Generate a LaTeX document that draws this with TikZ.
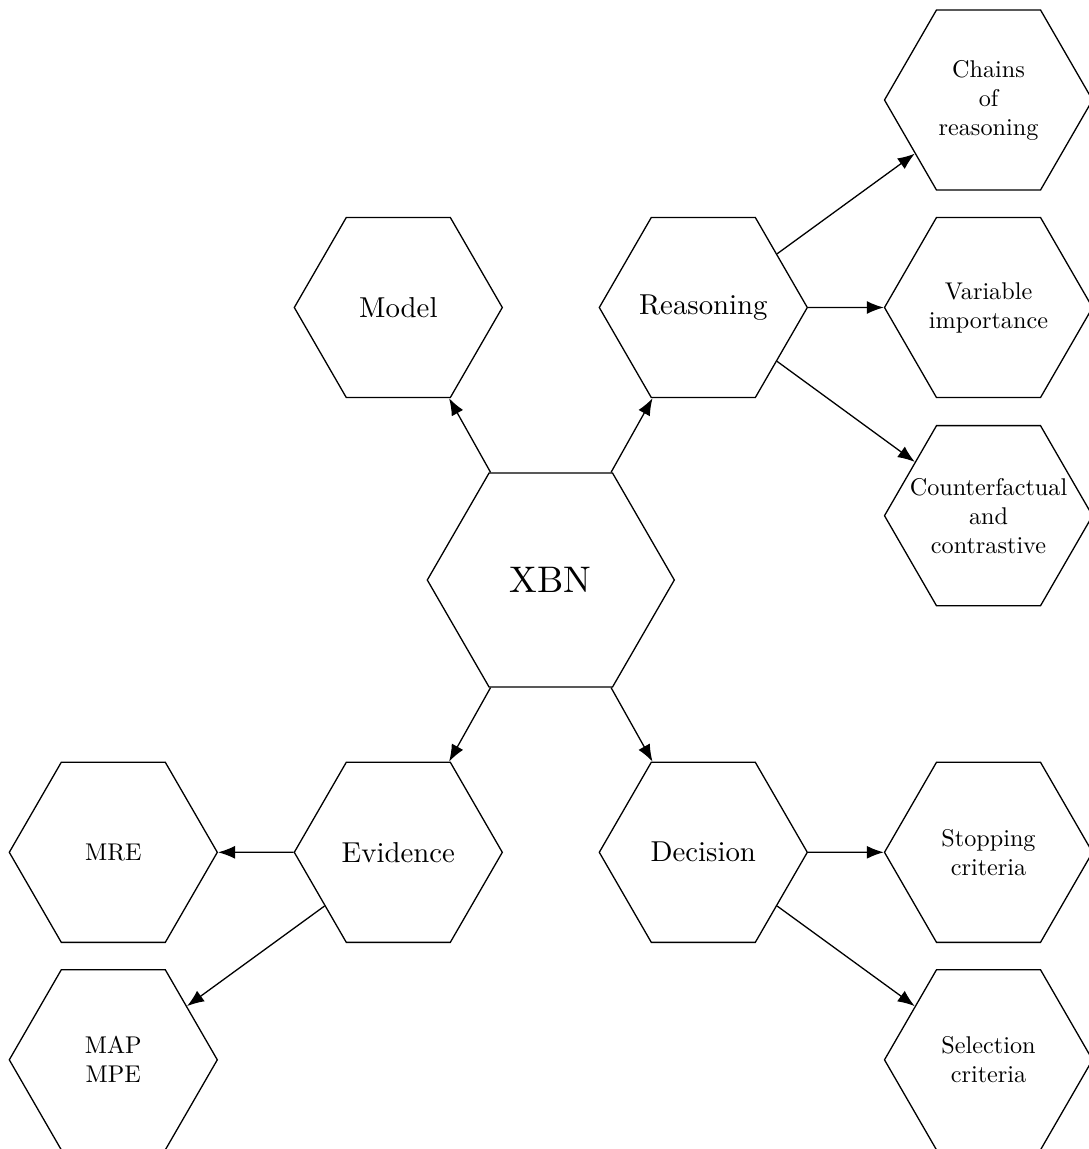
\documentclass[tikz,border=0pt]{standalone}
\usepackage{fontspec}
\setmainfont{lmroman10-regular.otf}
\usetikzlibrary{shapes.geometric,arrows.meta}

\tikzset{
  hexbase/.style={draw, regular polygon, regular polygon sides=6,
    inner sep=0pt, align=center, line width=1.3pt},
  smalltext/.style={align=center, font=\fontsize{24.2}{29}\selectfont},
  midtext/.style={align=center, font=\fontsize{28.8}{34}\selectfont},
  hexsmall/.style={hexbase, minimum size=208pt, smalltext},
  hexmid/.style={hexbase, minimum size=208pt, midtext},
  hexbig/.style={hexbase, minimum size=247pt,
    font=\fontsize{37}{44}\selectfont},
  link/.style={line width=1.3pt, -{Latex[length=17pt,width=13pt]}}
}

\begin{document}
\begin{tikzpicture}[x=1pt,y=-1pt]
  \useasboundingbox (0,0) rectangle (1088,1149);

  % centre
  \node[hexbig] (xbn) at (550.8,580) {XBN};

  % first ring (wide texts are set as centred labels so the hexagon keeps its size)
  \node[hexmid] (model)     at (398.3,307.5) {Model};
  \node[hexmid, label={[midtext]center:Reasoning}]
        (reasoning) at (703.3,307.5) {};
  \node[hexmid] (evidence)  at (398.3,852.3) {Evidence};
  \node[hexmid] (decision)  at (703.3,852.3) {Decision};

  % reasoning branch
  \node[hexsmall] (chains)   at (988.5,100)   {Chains\\of\\reasoning};
  \node[hexsmall] (variable) at (988.5,307.5) {Variable\\importance};
  \node[hexsmall,
        label={[smalltext]center:{Counterfactual\\and\\contrastive}}]
        (counter)  at (988.5,515.7) {};

  % evidence branch
  \node[hexsmall] (mre)    at (113.3,852.3)  {MRE};
  \node[hexsmall] (mapmpe) at (113.3,1059.8) {MAP\\MPE};

  % decision branch
  \node[hexsmall] (stopping)  at (988.5,852.3)  {Stopping\\criteria};
  \node[hexsmall] (selection) at (988.5,1059.8) {Selection\\criteria};

  % connectors
  \draw[link] (xbn) -- (model);
  \draw[link] (xbn) -- (reasoning);
  \draw[link] (xbn) -- (evidence);
  \draw[link] (xbn) -- (decision);

  \draw[link] (reasoning) -- (chains);
  \draw[link] (reasoning) -- (variable);
  \draw[link] (reasoning) -- (counter);

  \draw[link] (evidence) -- (mre);
  \draw[link] (evidence) -- (mapmpe);

  \draw[link] (decision) -- (stopping);
  \draw[link] (decision) -- (selection);
\end{tikzpicture}
\end{document}
